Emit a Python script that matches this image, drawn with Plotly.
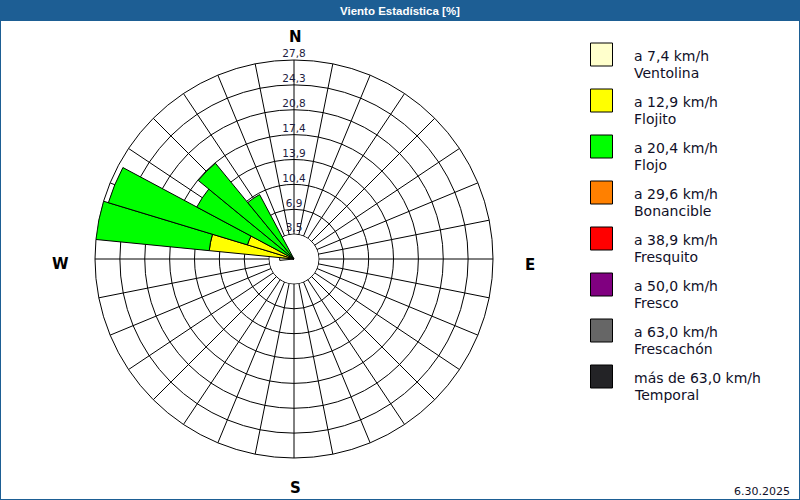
import plotly.graph_objects as go

# ---------------- data ----------------
title_text = "Viento Estadística [%]"
date_text = "6.30.2025"

# direction of each sector (degrees, clockwise from North), 32-point rose
directions = [270, 281.25, 292.5, 303.75, 315, 326.25]
sector_width = 11.25

speed_labels = ["a 7,4 km/h", "a 12,9 km/h", "a 20,4 km/h", "a 29,6 km/h",
                "a 38,9 km/h", "a 50,0 km/h", "a 63,0 km/h", "más de 63,0 km/h"]
beaufort_names = ["Ventolina", "Flojito", "Flojo", "Bonancible",
                  "Fresquito", "Fresco", "Frescachón", "Temporal"]
colors = ["#FFFFCC", "#FFFF00", "#00FF00", "#FF8000",
          "#FF0000", "#800080", "#666666", "#232326"]

# percentage per direction for each speed class
ventolina = [2.0, 0, 0, 0, 0, 0]
flojito = [0, 11.9, 6.8, 0, 0, 0]
flojo = [0, 15.9, 20.3, 15.4, 17.3, 10.2]
bonancible = [0, 0, 0, 0, 0, 0]
fresquito = [0, 0, 0, 0, 0, 0]
fresco = [0, 0, 0, 0, 0, 0]
frescachon = [0, 0, 0, 0, 0, 0]
temporal = [0, 0, 0, 0, 0, 0]
series = [ventolina, flojito, flojo, bonancible, fresquito, fresco, frescachon, temporal]

r_max = 27.8
ring_labels = ["3,5", "6,9", "10,4", "13,9", "17,4", "20,8", "24,3", "27,8"]
compass_labels = ["N", "E", "S", "W"]

# ---------------- layout constants ----------------
W, H = 800, 500
cx, cy, R = 294, 259, 199          # pixel centre / radius of the rose
blue = "#1d5e94"
txt = "#101028"

ring_vals = [r_max * (k + 1) / len(ring_labels) for k in range(len(ring_labels))]
grid_angles = [i * 11.25 for i in range(32)]

fig = go.Figure()

# white hub (covers the spokes inside the first ring)
fig.add_trace(go.Barpolar(
    r=[ring_vals[0] * 0.985], theta=[0], width=[360],
    marker=dict(color="white", line=dict(width=0)),
    hoverinfo="skip", showlegend=False))

for vals, name, col in zip(series, beaufort_names, colors):
    rr = [v if v else None for v in vals]
    fig.add_trace(go.Barpolar(
        r=rr, theta=directions, width=[sector_width] * len(directions),
        name=name, marker=dict(color=col, line=dict(color="black", width=1)),
        showlegend=False))

# ring labels along the North spoke
fig.add_trace(go.Scatterpolar(
    r=ring_vals, theta=[0] * len(ring_vals), mode="text", text=ring_labels,
    textposition="top center", cliponaxis=False,
    textfont=dict(family="DejaVu Sans", size=10.5, color="#1c1c40"),
    hoverinfo="skip", showlegend=False))

fig.update_layout(
    width=W, height=H,
    margin=dict(l=0, r=0, t=0, b=0),
    paper_bgcolor="white",
    polar=dict(
        domain=dict(x=[(cx - R) / W, (cx + R) / W], y=[1 - (cy + R) / H, 1 - (cy - R) / H]),
        bgcolor="white",
        barmode="stack",
        angularaxis=dict(rotation=90, direction="clockwise",
                         tickmode="array", tickvals=grid_angles,
                         showticklabels=False, ticks="",
                         showgrid=True, gridcolor="black", gridwidth=1,
                         showline=True, linecolor="black", linewidth=1,
                         layer="below traces"),
        radialaxis=dict(range=[0, r_max], tickmode="array", tickvals=ring_vals,
                        showticklabels=False, ticks="", showline=False,
                        showgrid=True, gridcolor="black", gridwidth=1,
                        layer="below traces"),
    ),
)

shapes = []
annotations = []

# outer frame and title bar
shapes.append(dict(type="rect", xref="paper", yref="paper", x0=0, x1=1, y0=1 - 21 / H, y1=1,
                   fillcolor=blue, line=dict(width=0), layer="above"))
shapes.append(dict(type="rect", xref="paper", yref="paper", x0=0, x1=1, y0=0, y1=1,
                   fillcolor="rgba(0,0,0,0)", line=dict(color=blue, width=2), layer="above"))
annotations.append(dict(text="<b>" + title_text + "</b>", x=0.5, y=1 - 11 / H,
                        xref="paper", yref="paper", showarrow=False,
                        xanchor="center", yanchor="middle",
                        font=dict(family="Liberation Sans", size=11.5, color="white")))

# compass letters
compass_pos = [(cx + 1, 37), (530, 265), (cx + 1, 488), (60, 264)]
for lab, (px, py) in zip(compass_labels, compass_pos):
    annotations.append(dict(text="<b>" + lab + "</b>", x=px / W, y=1 - py / H,
                            xref="paper", yref="paper", showarrow=False,
                            xanchor="center", yanchor="middle",
                            font=dict(family="DejaVu Sans", size=15, color="black")))

# legend (swatches + two-line labels)
for i, (sp, nm, col) in enumerate(zip(speed_labels, beaufort_names, colors)):
    top = 43 + 46 * i
    shapes.append(dict(type="rect", xref="paper", yref="paper",
                       x0=590.5 / W, x1=612.5 / W, y0=1 - (top + 23) / H, y1=1 - top / H,
                       fillcolor=col, line=dict(color="black", width=1), layer="above"))
    annotations.append(dict(text=sp, x=632 / W, y=1 - (top + 13) / H, xref="paper", yref="paper",
                            showarrow=False, xanchor="left", yanchor="middle",
                            font=dict(family="DejaVu Sans", size=14, color=txt)))
    annotations.append(dict(text=nm, x=632 / W, y=1 - (top + 30) / H, xref="paper", yref="paper",
                            showarrow=False, xanchor="left", yanchor="middle",
                            font=dict(family="DejaVu Sans", size=14, color=txt)))

# date stamp
annotations.append(dict(text=date_text, x=792 / W, y=1 - 491 / H, xref="paper", yref="paper",
                        showarrow=False, xanchor="right", yanchor="middle",
                        font=dict(family="DejaVu Sans", size=11, color=txt)))

fig.update_layout(shapes=shapes, annotations=annotations)
fig.write_html("out.html", config={"displayModeBar": False},
               post_script="document.body.style.margin='0px';document.body.style.overflow='hidden';")
